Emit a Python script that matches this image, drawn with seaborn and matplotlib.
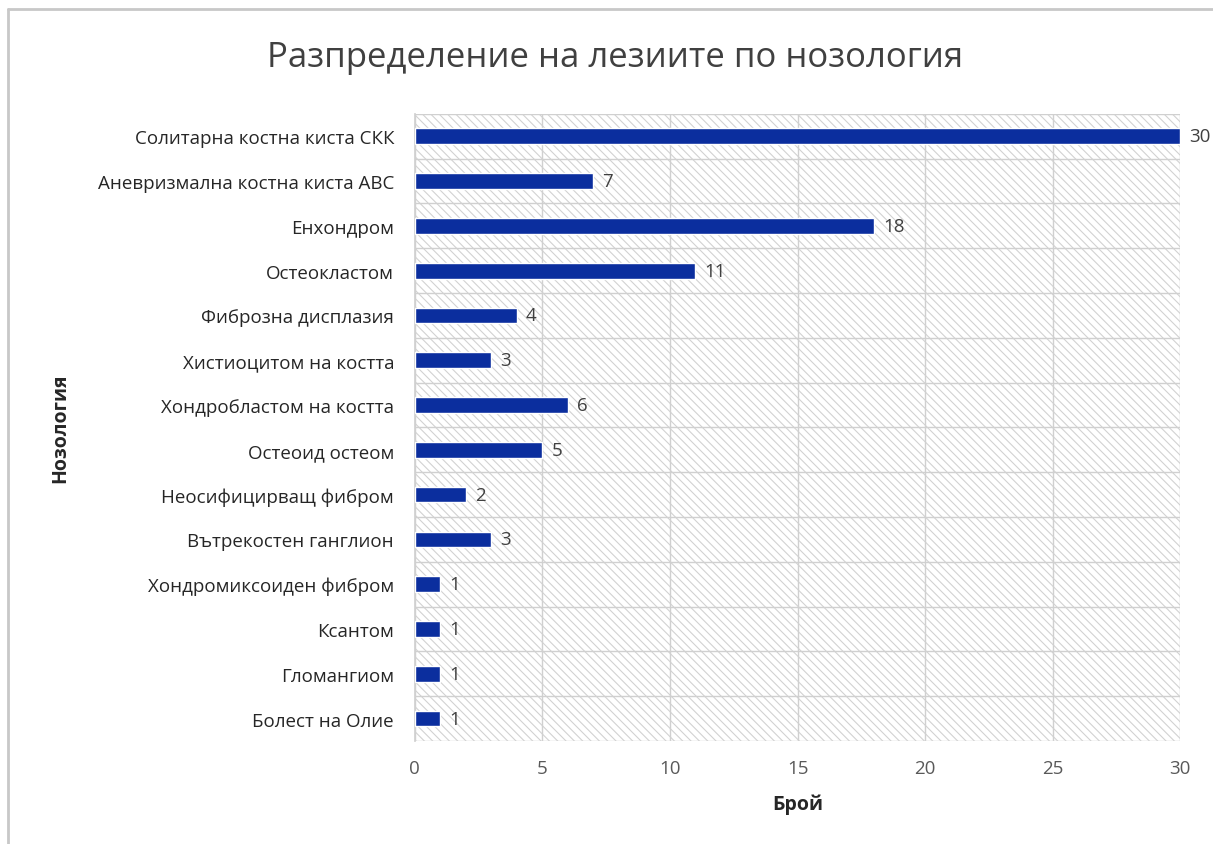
import matplotlib
matplotlib.use("Agg")
import matplotlib.pyplot as plt
import seaborn as sns
import pandas as pd
from matplotlib.patches import Rectangle
from matplotlib.lines import Line2D

categories = ["Солитарна костна киста СКК", "Аневризмална костна киста АВС", "Енхондром",
              "Остеокластом", "Фиброзна дисплазия", "Хистиоцитом на костта",
              "Хондробластом на костта", "Остеоид остеом", "Неосифицирващ фибром",
              "Вътрекостен ганглион", "Хондромиксоиден фибром", "Ксантом",
              "Гломангиом", "Болест на Олие"]
values = [30, 7, 18, 11, 4, 3, 6, 5, 2, 3, 1, 1, 1, 1]
x_ticks = [0, 5, 10, 15, 20, 25, 30]

sns.set_theme(style="white")
plt.rcParams['font.family'] = ['Open Sans', 'DejaVu Sans']
plt.rcParams['hatch.linewidth'] = 0.8

df = pd.DataFrame({"cat": categories, "val": values})

fig = plt.figure(figsize=(12.13, 8.45), dpi=100)
ax = fig.add_axes([0.342, 0.122, 0.631, 0.742])

bg = Rectangle((0, 0), 1, 1, transform=ax.transAxes, facecolor="white",
               edgecolor="#d2d2d2", hatch="\\\\\\\\", lw=0, zorder=0)
ax.add_patch(bg)

sns.barplot(data=df, y="cat", x="val", orient="h", color="#0b2e9e",
            saturation=1, width=0.35, ax=ax, zorder=3)

ax.set_xlim(0, 30)
ax.set_ylim(len(categories) - 0.5, -0.5)
ax.set_xticks(x_ticks)
ax.set_xticklabels([str(t) for t in x_ticks], fontsize=13.5, color="#595959")
ax.tick_params(axis="x", length=0, pad=13)
ax.tick_params(axis="y", which="major", length=0, labelsize=13.5, labelcolor="#262626", pad=15)
ax.set_yticks([i + 0.5 for i in range(-1, len(categories))], minor=True)
ax.tick_params(axis="y", which="minor", length=8, color="#d0d0d0", width=1, direction="out")
ax.grid(axis="y", which="minor", color="#d0d0d0", lw=1, zorder=1)
ax.grid(axis="x", which="major", color="#d0d0d0", lw=1, zorder=1)
ax.set_axisbelow(True)
for s in ["top", "right", "bottom"]:
    ax.spines[s].set_visible(False)
ax.spines["left"].set_color("#d0d0d0")

for i, v in enumerate(values):
    ax.annotate(str(v), xy=(v, i), xytext=(6.5, 0), textcoords="offset points",
                va="center", ha="left", fontsize=13.5, color="#404040")

ax.set_xlabel("Брой", fontsize=14, fontweight="bold", color="#262626", labelpad=12)
ax.set_ylabel("Нозология", fontsize=14, fontweight="bold", color="#262626")
ax.yaxis.set_label_coords(-0.45, 0.5)
fig.suptitle("Разпределение на лезиите по нозология", fontsize=25, color="#404040",
             x=0.507, y=0.952)

fig.add_artist(Line2D([0.0065, 1.0], [0.988, 0.988], transform=fig.transFigure,
                      color="#c8c8c8", lw=2))
fig.add_artist(Line2D([0.0065, 0.0065], [0.0, 0.988], transform=fig.transFigure,
                      color="#c8c8c8", lw=2))

fig.savefig("out.png", dpi=100)
